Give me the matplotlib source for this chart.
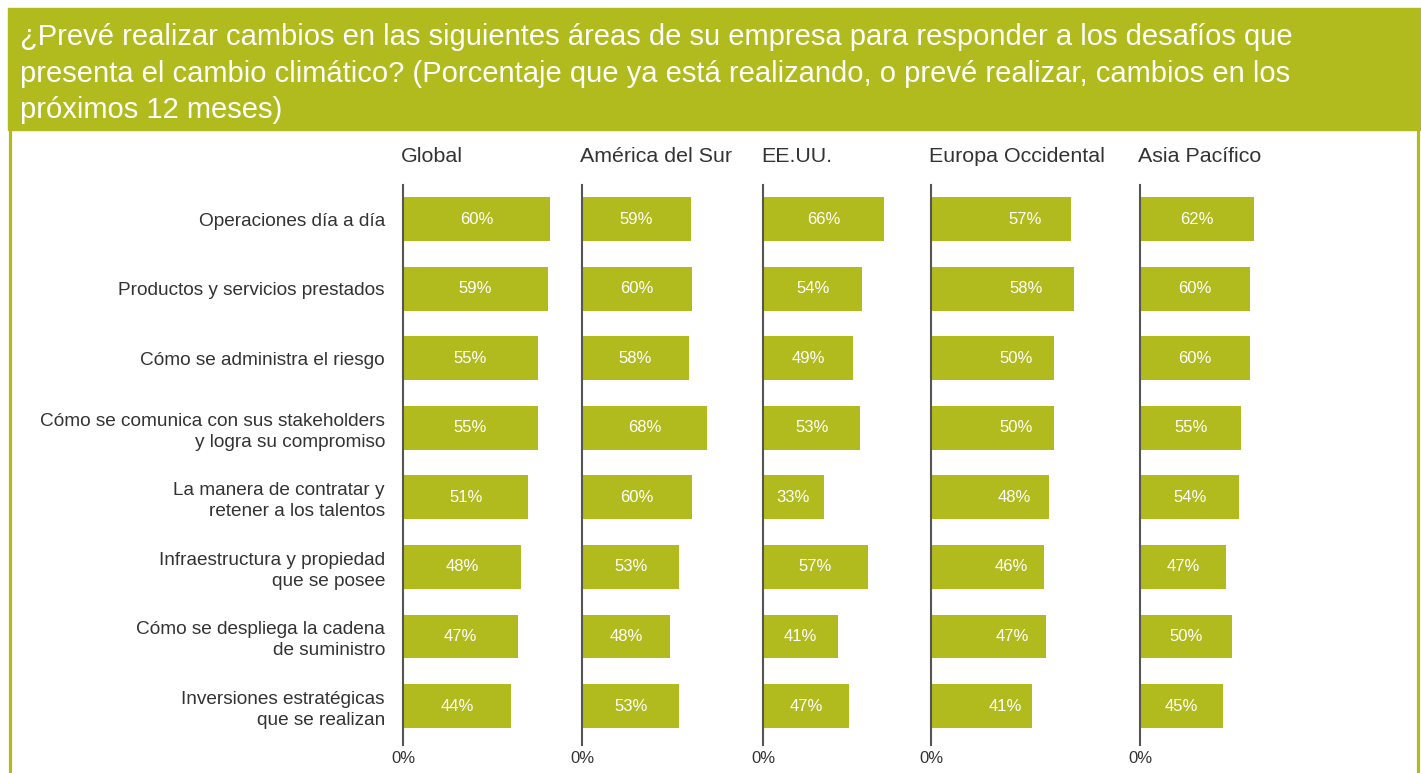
import matplotlib.pyplot as plt
from matplotlib.patches import Rectangle
from matplotlib.lines import Line2D

plt.rcParams['font.family'] = ['Liberation Sans', 'DejaVu Sans']

W, H = 1421, 773

title_lines = [
    "¿Prevé realizar cambios en las siguientes áreas de su empresa para responder a los desafíos que",
    "presenta el cambio climático? (Porcentaje que ya está realizando, o prevé realizar, cambios en los",
    "próximos 12 meses)",
]

categories = [
    "Operaciones día a día",
    "Productos y servicios prestados",
    "Cómo se administra el riesgo",
    "Cómo se comunica con sus stakeholders\ny logra su compromiso",
    "La manera de contratar y\nretener a los talentos",
    "Infraestructura y propiedad\nque se posee",
    "Cómo se despliega la cadena\nde suministro",
    "Inversiones estratégicas\nque se realizan",
]

regions = ["Global", "América del Sur", "EE.UU.", "Europa Occidental", "Asia Pacífico"]

global_vals = [60, 59, 55, 55, 51, 48, 47, 44]
sur_vals = [59, 60, 58, 68, 60, 53, 48, 53]
eeuu_vals = [66, 54, 49, 53, 33, 57, 41, 47]
europa_vals = [57, 58, 50, 50, 48, 46, 47, 41]
asia_vals = [62, 60, 60, 55, 54, 47, 50, 45]
values = [global_vals, sur_vals, eeuu_vals, europa_vals, asia_vals]

green = '#B2BB1E'
dark = '#333333'

# panel layout in pixels
panel_left = [403, 582, 763, 931, 1140]
panel_xmax = [70, 93.5, 93.5, 70, 93.5]   # original uses different scales per panel
label_shift = [0, 0, 0, 24, 0]             # Europa labels sit right of centre
panel_w = 172
ax_top, ax_bot = 185, 745


def fx(px):
    return px / W


def fy(py):
    return 1 - py / H


fig = plt.figure(figsize=(W / 100, H / 100), dpi=100)

# header band and frame
fig.patches.append(Rectangle((fx(8), fy(130)), fx(W - 8), (130 - 8) / H,
                             transform=fig.transFigure, color=green, zorder=0))
for xb in (9.5, 1417.5):
    fig.lines.append(Line2D([fx(xb), fx(xb)], [fy(130), 0], transform=fig.transFigure,
                            color=green, lw=2.3))
for k, line in enumerate(title_lines):
    fig.text(fx(20), fy(45 + 36.5 * k), line, color='white', fontsize=21,
             va='baseline', ha='left')

for i, (name, vals) in enumerate(zip(regions, values)):
    ax = fig.add_axes([fx(panel_left[i]), fy(ax_bot), panel_w / W, (ax_bot - ax_top) / H])
    ypos = list(range(len(categories)))
    ax.barh(ypos, vals, height=0.63, color=green, zorder=2)
    for y, v in zip(ypos, vals):
        ax.annotate(f"{v}%", (v / 2, y), xytext=(label_shift[i], 0), textcoords='offset pixels',
                    ha='center', va='center', color='white', fontsize=12)
    ax.set_xlim(0, panel_xmax[i])
    ax.set_ylim(7.56, -0.49)
    for s in ('top', 'right', 'bottom'):
        ax.spines[s].set_visible(False)
    ax.spines['left'].set_color('#555555')
    ax.spines['left'].set_linewidth(1.5)
    ax.set_xticks([0])
    ax.set_xticklabels(["0%"], fontsize=12, color=dark)
    ax.tick_params(axis='x', length=0, pad=4)
    if i == 0:
        ax.set_yticks(ypos)
        ax.set_yticklabels(categories, fontsize=13.7, color=dark, linespacing=1.3)
        ax.tick_params(axis='y', length=0, pad=13)
    else:
        ax.set_yticks([])
    fig.text(fx(panel_left[i] - 2), fy(157), name, fontsize=15.4, color=dark,
             ha='left', va='center')

fig.savefig('out.png', dpi=100)
